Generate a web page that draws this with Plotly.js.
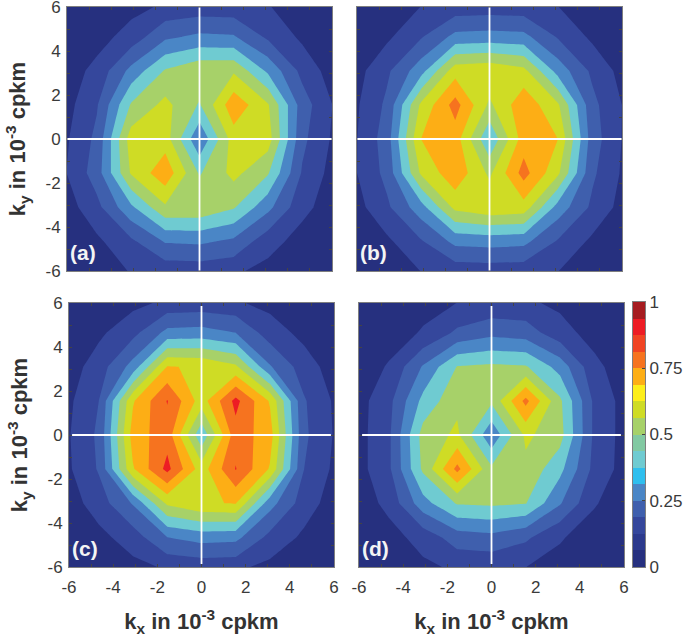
<!DOCTYPE html>
<html><head><meta charset="utf-8">
<script src="https://cdn.plot.ly/plotly-3.0.1.min.js"></script>
<style>html,body{margin:0;padding:0;background:#fff}</style></head>
<body><div id="chart" style="width:685px;height:640px"></div>
<script>
const gridK=[-6.2,-4.65,-3.1,-1.55,0,1.55,3.1,4.65,6.2];
const panelA=[
[.01,.03,.10,.115,.117,.105,.06,.03,.01],
[.02,.08,.18,.31,.32,.28,.14,.06,.02],
[.04,.17,.38,.585,.58,.51,.33,.13,.04],
[.08,.25,.61,.77,.49,.63,.51,.19,.05],
[.07,.225,.65,.65,.31,.65,.65,.225,.07],
[.05,.19,.51,.63,.49,.77,.61,.25,.08],
[.04,.13,.33,.51,.58,.585,.38,.17,.04],
[.02,.06,.14,.28,.32,.31,.18,.08,.02],
[.01,.03,.06,.105,.117,.115,.10,.03,.01]];
const panelB=[
[.015,.04,.09,.115,.12,.115,.09,.04,.015],
[.02,.08,.19,.33,.34,.33,.19,.08,.02],
[.05,.18,.36,.63,.68,.66,.36,.18,.05],
[.08,.23,.615,.77,.58,.84,.62,.22,.07],
[.075,.25,.70,.75,.41,.75,.70,.25,.075],
[.07,.22,.62,.84,.58,.77,.615,.23,.08],
[.05,.18,.36,.66,.68,.63,.36,.18,.05],
[.02,.08,.19,.33,.34,.33,.19,.08,.02],
[.015,.04,.09,.115,.12,.115,.09,.04,.015]];
const panelC=[
[.01,.025,.06,.10,.11,.105,.06,.025,.01],
[.02,.07,.15,.30,.34,.33,.17,.08,.02],
[.04,.15,.31,.62,.69,.705,.34,.15,.04],
[.07,.21,.69,.93,.65,.905,.69,.2,.065],
[.075,.22,.745,.86,.42,.86,.745,.22,.075],
[.065,.2,.69,.905,.65,.93,.69,.21,.07],
[.04,.15,.34,.705,.69,.62,.31,.15,.04],
[.02,.08,.17,.33,.34,.30,.15,.07,.02],
[.01,.025,.06,.105,.11,.10,.06,.025,.01]];
const panelD=[
[.01,.025,.07,.108,.105,.085,.06,.025,.01],
[.015,.06,.14,.25,.27,.22,.11,.05,.015],
[.03,.13,.36,.51,.52,.505,.31,.11,.03],
[.05,.18,.52,.83,.52,.575,.43,.17,.05],
[.05,.18,.54,.62,.32,.62,.54,.18,.05],
[.05,.17,.43,.575,.52,.83,.52,.18,.05],
[.03,.11,.31,.505,.52,.51,.36,.13,.03],
[.015,.05,.11,.22,.27,.25,.14,.06,.015],
[.01,.025,.06,.085,.105,.108,.07,.025,.01]];
const bandColors=['#26307f','#35479c','#3f5fad','#4a86c6','#6fcbd1','#a7d169','#cfdc25','#fdae15','#f6731f','#ed1c24'];
const barColors=['#26307f','#2c3a8d','#35479c','#3f5fad','#4a86c6','#2fbfee','#6fcbd1','#82c9a2','#a7d169','#cfdc25','#fdee1a','#fdae15','#f6731f','#f04423','#ed1c24','#a61c20'];
const barLevels=[0.03125,0.09375,0.15625,0.21875,0.28125,0.34375,0.40625,0.46875,0.53125,0.59375,0.65625,0.71875,0.78125,0.84375,0.90625,0.96875];
const tickVals=[-6,-4,-2,0,2,4,6];
const tickText=['-6','-4','-2','0','2','4','6'];
const barTicks=[0,0.25,0.5,0.75,1];
const barTickText=['0','0.25','0.5','0.75','1'];
const W=685,H=640;
const panels=[
 {z:panelA,l:67,r:332,t:7,b:271,tag:'(a)',xl:false,yl:true,inset:0.02},
 {z:panelB,l:357,r:622,t:7,b:271,tag:'(b)',xl:false,yl:false,inset:0.02},
 {z:panelC,l:69,r:334,t:303,b:567,tag:'(c)',xl:true,yl:true,inset:0.14},
 {z:panelD,l:359,r:624,t:303,b:567,tag:'(d)',xl:true,yl:false,inset:0.14}];
const cs=bandColors.map((c,i)=>[i/(bandColors.length-1),c]);
const tf={family:'Liberation Sans, Arial, sans-serif',size:17,color:'#3a3a3a'};
const axisBase={range:[-6,6],tickmode:'array',tickvals:tickVals,ticktext:tickText,ticks:'inside',ticklen:3,tickwidth:1,tickcolor:'#444',
  minor:{tickmode:'linear',tick0:-6,dtick:1,ticks:'inside',ticklen:3,tickwidth:1,tickcolor:'#444'},ticklabeloverflow:'allow',
  showline:true,linecolor:'#7f7f7f',linewidth:1,mirror:'ticks',showgrid:false,zeroline:false,tickfont:tf};
const data=[],shapes=[],annotations=[];
const layout={width:W,height:H,margin:{l:0,r:0,t:0,b:0},paper_bgcolor:'#fff',plot_bgcolor:'#26307f',showlegend:false};
const ttl={family:'Liberation Sans, Arial, sans-serif',size:22,color:'#333'};
panels.forEach((p,i)=>{
  const n=i+1,s=n===1?'':n;
  data.push({type:'contour',x:gridK,y:gridK,z:p.z,xaxis:'x'+s,yaxis:'y'+s,showscale:false,hoverinfo:'skip',
    autocontour:false,contours:{start:0.1,end:0.9,size:0.1,coloring:'fill',showlines:false},line:{width:0,smoothing:0},colorscale:cs});
  layout['xaxis'+s]=Object.assign({},axisBase,{anchor:'y'+s,domain:[p.l/W,p.r/W],showticklabels:p.xl,ticklabelstandoff:5,
    title:p.xl?{text:'<b>k<sub>x</sub> in 10<sup>-3</sup> cpkm</b>',font:ttl,standoff:17}:undefined});
  layout['yaxis'+s]=Object.assign({},axisBase,{anchor:'x'+s,domain:[1-p.b/H,1-p.t/H],showticklabels:p.yl,ticklabelstandoff:2,
    title:p.yl?{text:'<b>k<sub>y</sub> in 10<sup>-3</sup> cpkm</b>',font:ttl,standoff:13}:undefined});
  const e=6-p.inset;
  shapes.push({type:'line',xref:'x'+s,yref:'y'+s,x0:-e,x1:e,y0:0,y1:0,line:{color:'#fff',width:1.8}});
  shapes.push({type:'line',xref:'x'+s,yref:'y'+s,x0:0,x1:0,y0:-e,y1:e,line:{color:'#fff',width:1.8}});
  annotations.push({xref:'x'+s,yref:'y'+s,x:-5.95,y:-5.15,text:'<b>'+p.tag+'</b>',showarrow:false,xanchor:'left',yanchor:'middle',
    font:{family:'Liberation Sans, Arial, sans-serif',size:21,color:'#f4f4f4'}});
});
data.push({type:'heatmap',x:[0],y:barLevels,z:barLevels.map(v=>[v]),xaxis:'x5',yaxis:'y5',showscale:false,hoverinfo:'skip',
  colorscale:barColors.map((c,i)=>[i/(barColors.length-1),c]),zmin:barLevels[0],zmax:barLevels[barLevels.length-1]});
layout.xaxis5={domain:[633/W,645/W],anchor:'y5',showticklabels:false,ticks:'',showgrid:false,zeroline:false,showline:true,linecolor:'#7f7f7f',mirror:true};
layout.yaxis5={domain:[1-567/H,1-302/H],anchor:'x5',side:'right',range:[0,1],tickmode:'array',tickvals:barTicks,ticktext:barTickText,ticklabeloverflow:'allow',
  ticks:'inside',ticklen:3,tickcolor:'#444',showgrid:false,zeroline:false,showline:true,linecolor:'#7f7f7f',mirror:true,tickfont:tf};
layout.shapes=shapes;layout.annotations=annotations;
Plotly.newPlot('chart',data,layout,{displayModeBar:false,staticPlot:true});
</script></body></html>
